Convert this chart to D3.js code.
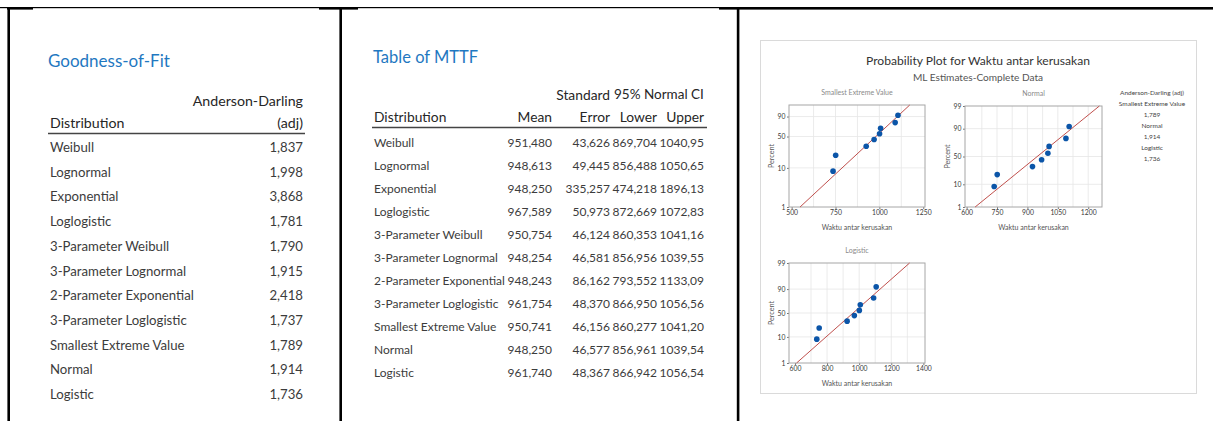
<!DOCTYPE html>
<html>
<head>
<meta charset="utf-8">
<script src="https://cdn.jsdelivr.net/npm/d3@7"></script>
<style>
  body { margin: 0; background: #fff; }
  svg { display: block; font-family: Lato, "Open Sans", sans-serif; }
</style>
</head>
<body>
<svg id="chart" width="1213" height="421"></svg>
<script>
const distributions = [
  "Weibull",
  "Lognormal",
  "Exponential",
  "Loglogistic",
  "3-Parameter Weibull",
  "3-Parameter Lognormal",
  "2-Parameter Exponential",
  "3-Parameter Loglogistic",
  "Smallest Extreme Value",
  "Normal",
  "Logistic",
];
const adValues = [1.837, 1.998, 3.868, 1.781, 1.79, 1.915, 2.418, 1.737, 1.789, 1.914, 1.736];
const mttfMean = [951.48, 948.613, 948.25, 967.589, 950.754, 948.254, 948.243, 961.754, 950.741, 948.25, 961.74];
const mttfError = [43.626, 49.445, 335.257, 50.973, 46.124, 46.581, 86.162, 48.37, 46.156, 46.577, 48.367];
const mttfLower = [869.704, 856.488, 474.218, 872.669, 860.353, 856.956, 793.552, 866.95, 860.277, 856.961, 866.942];
const mttfUpper = [1040.95, 1050.65, 1896.13, 1072.83, 1041.16, 1039.55, 1133.09, 1056.56, 1041.2, 1039.54, 1056.54];

// probability plot
const waktu = [736, 751, 925, 970, 1001, 1007, 1090, 1106];
const percent = [8.3, 20.2, 32.1, 44.0, 56.0, 67.9, 79.8, 91.7];
const plotNames = ["Smallest Extreme Value", "Normal", "Logistic"];
const fitEnds = [[548, 1173], [642, 1255], [610, 1314]]; // x at 1% and at 99%
const xDomains = [[485, 1260], [592, 1268], [563, 1410]];
const xTicks = [[500, 750, 1000, 1250], [600, 750, 900, 1050, 1200], [600, 800, 1000, 1200, 1400]];
const xGrid = [
  [625, 750, 875, 1000, 1125],
  [675, 750, 825, 900, 975, 1050, 1125, 1200],
  [700, 800, 900, 1000, 1100, 1200, 1300],
];
const yTicks = [[1, 10, 50, 90], [1, 10, 50, 90, 99], [1, 10, 50, 90, 99]];
const legendAD = [1.789, 1.914, 1.736];

const locale = d3.formatLocale({ decimal: ",", thousands: ".", grouping: [3], currency: ["", ""] });
const f3 = locale.format(".3f"),
  f2 = locale.format(".2f");
const fmt = (v) => (v >= 1000 ? f2(v) : f3(v));

const svg = d3.select("#chart");
svg.append("rect").attr("width", 1213).attr("height", 421).attr("fill", "#fff");

// cell borders
const borders = svg.append("g").attr("fill", "#000");
borders.append("rect").attr("x", 0).attr("y", 7).attr("width", 1213).attr("height", 1.2);
[[7, 26], [319, 39], [719, 494]].forEach(([x, w]) =>
  borders.append("rect").attr("x", x).attr("y", 7).attr("width", w).attr("height", 2.6)
);
[7.4, 339.4, 736.8].forEach((x) =>
  borders.append("rect").attr("x", x).attr("y", 7).attr("width", 2.6).attr("height", 414)
);

const blue = "#1f78c1",
  text = "#3c3c3c",
  head = "#262626";

// ---- Goodness-of-Fit
const g1 = svg.append("g");
g1.append("text").attr("x", 48).attr("y", 67).attr("font-size", 17).attr("fill", blue).text("Goodness-of-Fit");
g1.append("text").attr("x", 303).attr("y", 106).attr("text-anchor", "end").attr("font-size", 14.2).attr("fill", head).text("Anderson-Darling");
g1.append("text").attr("x", 50).attr("y", 128).attr("font-size", 14.2).attr("fill", head).text("Distribution");
g1.append("text").attr("x", 303).attr("y", 128).attr("text-anchor", "end").attr("font-size", 14.2).attr("fill", head).text("(adj)");
g1.append("line").attr("x1", 48).attr("x2", 305).attr("y1", 133.5).attr("y2", 133.5).attr("stroke", "#444").attr("stroke-width", 1.5);

const row1 = d3.scaleLinear().domain([0, 10]).range([147, 394]);
g1.selectAll(".dist").data(distributions).enter().append("text")
  .attr("x", 50).attr("y", (d, i) => row1(i) + 5)
  .attr("font-size", 13.2).attr("fill", text).text((d) => d);
g1.selectAll(".ad").data(adValues).enter().append("text")
  .attr("x", 303).attr("y", (d, i) => row1(i) + 5).attr("text-anchor", "end")
  .attr("font-size", 13.2).attr("fill", text).text((d) => f3(d));

// ---- Table of MTTF
const g2 = svg.append("g");
g2.append("text").attr("x", 373).attr("y", 63).attr("font-size", 16.5).attr("fill", blue).text("Table of MTTF");
g2.append("text").attr("x", 610).attr("y", 100).attr("text-anchor", "end").attr("font-size", 13.8).attr("fill", head).text("Standard");
g2.append("text").attr("x", 614).attr("y", 99).attr("font-size", 13.5).attr("fill", head).text("95% Normal CI");
const cols = [
  { x: 552, label: "Mean", vals: mttfMean },
  { x: 610, label: "Error", vals: mttfError },
  { x: 657, label: "Lower", vals: mttfLower },
  { x: 704, label: "Upper", vals: mttfUpper },
];
g2.append("text").attr("x", 374).attr("y", 122).attr("font-size", 13.8).attr("fill", head).text("Distribution");
cols.forEach((c) => {
  g2.append("text").attr("x", c.x).attr("y", 122).attr("text-anchor", "end").attr("font-size", 13.8).attr("fill", head).text(c.label);
});
g2.append("line").attr("x1", 372).attr("x2", 707).attr("y1", 127.5).attr("y2", 127.5).attr("stroke", "#444").attr("stroke-width", 1.5);

const row2 = d3.scaleLinear().domain([0, 10]).range([142, 372]);
g2.selectAll(".dist").data(distributions).enter().append("text")
  .attr("x", 374).attr("y", (d, i) => row2(i) + 4.5)
  .attr("font-size", 12).attr("fill", text).text((d) => d);
cols.forEach((c) => {
  g2.selectAll(null).data(c.vals).enter().append("text")
    .attr("x", c.x).attr("y", (d, i) => row2(i) + 4.5).attr("text-anchor", "end")
    .attr("font-size", 12).attr("fill", text).text((d) => fmt(d));
});

// ---- Probability plot
function qnorm(p) {
  const a = [-39.69683028665376, 220.9460984245205, -275.9285104469687, 138.357751867269, -30.66479806614716, 2.506628277459239];
  const b = [-54.47609879822406, 161.5858368580409, -155.6989798598866, 66.80131188771972, -13.28068155288572];
  const c = [-0.007784894002430293, -0.3223964580411365, -2.400758277161838, -2.549732539343734, 4.374664141464968, 2.938163982698783];
  const d = [0.007784695709041462, 0.3224671290700398, 2.445134137142996, 3.754408661907416];
  const pl = 0.02425;
  let q, r;
  if (p < pl) {
    q = Math.sqrt(-2 * Math.log(p));
    return (((((c[0] * q + c[1]) * q + c[2]) * q + c[3]) * q + c[4]) * q + c[5]) / ((((d[0] * q + d[1]) * q + d[2]) * q + d[3]) * q + 1);
  }
  if (p > 1 - pl) {
    q = Math.sqrt(-2 * Math.log(1 - p));
    return -(((((c[0] * q + c[1]) * q + c[2]) * q + c[3]) * q + c[4]) * q + c[5]) / ((((d[0] * q + d[1]) * q + d[2]) * q + d[3]) * q + 1);
  }
  q = p - 0.5;
  r = q * q;
  return ((((((a[0] * r + a[1]) * r + a[2]) * r + a[3]) * r + a[4]) * r + a[5]) * q) / (((((b[0] * r + b[1]) * r + b[2]) * r + b[3]) * r + b[4]) * r + 1);
}
const transforms = [
  (p) => Math.log(-Math.log(1 - p / 100)),
  (p) => qnorm(p / 100),
  (p) => Math.log(p / (100 - p)),
];
const boxes = [
  { x0: 789, x1: 925, y0: 105, y1: 207 },
  { x0: 965, x1: 1102, y0: 106, y1: 207 },
  { x0: 789, x1: 925, y0: 263, y1: 363 },
];

const g3 = svg.append("g");
g3.append("rect").attr("x", 760.5).attr("y", 40.5).attr("width", 436).attr("height", 353)
  .attr("fill", "none").attr("stroke", "#dadada");
g3.append("text").attr("x", 978).attr("y", 65).attr("text-anchor", "middle").attr("font-size", 12.1).attr("fill", "#333")
  .text("Probability Plot for Waktu antar kerusakan");
g3.append("text").attr("x", 978).attr("y", 80.5).attr("text-anchor", "middle").attr("font-size", 10.1).attr("fill", "#555")
  .text("ML Estimates-Complete Data");

plotNames.forEach((name, k) => {
  const b = boxes[k],
    T = transforms[k];
  const x = d3.scaleLinear().domain(xDomains[k]).range([b.x0, b.x1]);
  const yl = d3.scaleLinear().domain([T(1), T(99)]).range([b.y1, b.y0]);
  const y = (p) => yl(T(p));
  const g = g3.append("g");
  const cx = (b.x0 + b.x1) / 2;

  g.append("text").attr("x", cx).attr("y", b.y0 - 10.5).attr("text-anchor", "middle").attr("font-size", 7).attr("fill", "#8a8a8a").text(name);

  g.selectAll(".vg").data(xGrid[k]).enter().append("line")
    .attr("x1", (d) => x(d)).attr("x2", (d) => x(d)).attr("y1", b.y0).attr("y2", b.y1)
    .attr("stroke", "#e6e6e6").attr("stroke-width", 0.8);
  g.selectAll(".hg").data(yTicks[k].filter((t) => t > 1 && t < 99)).enter().append("line")
    .attr("x1", b.x0).attr("x2", b.x1).attr("y1", (d) => y(d)).attr("y2", (d) => y(d))
    .attr("stroke", "#e6e6e6").attr("stroke-width", 0.8);

  const xAxis = d3.axisBottom(x).tickValues(xTicks[k]).tickFormat(d3.format("d")).tickSize(2).tickPadding(1.5);
  const yAxis = d3.axisLeft(yl).tickValues(yTicks[k].map(T)).tickFormat((d, i) => yTicks[k][i]).tickSize(2).tickPadding(1.5);
  const ga = g.append("g").attr("transform", `translate(0,${b.y1})`).call(xAxis);
  const gy = g.append("g").attr("transform", `translate(${b.x0},0)`).call(yAxis);
  [ga, gy].forEach((a) => {
    a.select(".domain").remove();
    a.selectAll("line").attr("stroke", "#777");
    a.selectAll("text").attr("font-size", 6.8).attr("fill", "#3a3a3a").attr("font-family", "Lato, sans-serif");
  });

  g.append("rect").attr("x", b.x0).attr("y", b.y0).attr("width", b.x1 - b.x0).attr("height", b.y1 - b.y0)
    .attr("fill", "none").attr("stroke", "#a6a6a6").attr("stroke-width", 1);

  g.append("text").attr("transform", `translate(${b.x0 - 15},${(b.y0 + b.y1) / 2}) rotate(-90)`)
    .attr("text-anchor", "middle").attr("font-size", 7.2).attr("fill", "#555").text("Percent");
  g.append("text").attr("x", cx).attr("y", b.y1 + 23).attr("text-anchor", "middle").attr("font-size", 7).attr("fill", "#555")
    .text("Waktu antar kerusakan");

  const line = d3.line().x((d) => x(d[0])).y((d) => y(d[1]));
  g.append("path").datum([[fitEnds[k][0], 1], [fitEnds[k][1], 99]]).attr("d", line)
    .attr("fill", "none").attr("stroke", "#c0504d").attr("stroke-width", 1);

  g.selectAll(".pt").data(waktu).enter().append("circle")
    .attr("cx", (d) => x(d)).attr("cy", (d, i) => y(percent[i])).attr("r", 2.8).attr("fill", "#0b55a8");
});

// legend
const legendLines = ["Anderson-Darling (adj)"];
plotNames.forEach((n, i) => legendLines.push(n, f3(legendAD[i])));
g3.selectAll(".lg").data(legendLines).enter().append("text")
  .attr("x", 1152).attr("y", (d, i) => 95 + i * 11).attr("text-anchor", "middle")
  .attr("font-size", 6.5).attr("fill", "#444").text((d) => d);
</script>
</body>
</html>
